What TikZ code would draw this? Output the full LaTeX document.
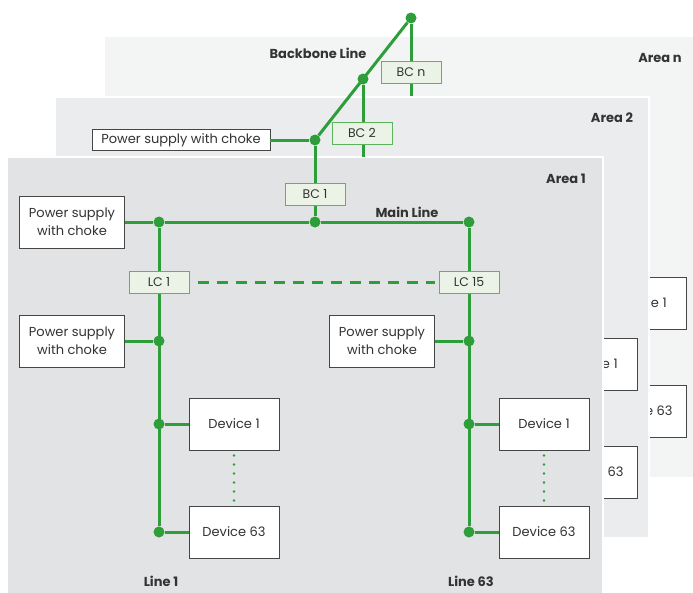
\documentclass[tikz,border=0pt]{standalone}
\usepackage{fontspec}
\setmainfont{Poppins}
\usepackage{tikz}
\usetikzlibrary{positioning}
\definecolor{busgreen}{RGB}{46,158,58}
\definecolor{cplfill}{RGB}{234,243,230}
\definecolor{cpledge}{RGB}{92,180,92}
\definecolor{txt}{RGB}{51,51,51}
\definecolor{boxedge}{RGB}{70,70,70}
\definecolor{AreaN}{RGB}{243,244,244}
\definecolor{AreaT}{RGB}{235,236,237}
\definecolor{AreaO}{RGB}{226,227,229}
\newcommand{\areapanel}[5]{
\filldraw[fill=#1, draw=white, line width=2pt] (#2,#3) rectangle (#4,#5);
}
\newcommand{\ghostdevices}[3]{
\node[devbox] (#1a) at (544+#2,424-#3) {Device 1};
\node[devbox] (#1b) at (544+#2,532-#3) {Device 63};
}
\tikzset{
  bus/.style={draw=busgreen, line width=3pt},
  junction/.style={circle, fill=busgreen, inner sep=0pt, minimum size=11pt},
  coupler/.style={draw=cpledge, fill=cplfill, line width=1pt, minimum width=60pt,
    minimum height=22pt, inner sep=0pt, text=txt, font=\fontsize{12.5}{14}\selectfont},
  psbox/.style={draw=boxedge, fill=white, line width=0.9pt, minimum width=105pt,
    minimum height=52pt, inner sep=0pt, align=center, text=txt,
    font=\fontsize{13}{18}\selectfont},
  devbox/.style={psbox, minimum width=90pt},
  tag/.style={text=txt, font=\fontsize{13}{14}\selectfont\bfseries},
}
\begin{document}
\begin{tikzpicture}[x=1pt,y=-1pt]
\useasboundingbox (0,0) rectangle (693,592);
% area n
\areapanel{AreaN}{104}{36}{700}{478}
\ghostdevices{dn}{97}{121}
\node[tag] (arean) at (660,58) {Area n};
% area 2
\areapanel{AreaT}{55}{97}{649}{538}
\ghostdevices{dt}{48}{60}
\node[tag] (areat) at (612,118) {Area 2};
% area 1
\areapanel{AreaO}{7}{157}{603}{600}
\node[tag] (areao) at (566,179) {Area 1};
\node[tag] (backbone) at (318,53) {Backbone Line};
\node[tag] (mainline) at (407,212) {Main Line};
\node[tag] (lineone) at (161,581) {Line 1};
\node[tag] (linesixtythree) at (471,581) {Line 63};

% backbone
\node[junction] (bbn) at (411,18) {};
\node[junction] (bbt) at (363,79) {};
\node[junction] (bbo) at (315,140) {};
\coordinate (endn) at (411,96);
\coordinate (endt) at (363,157);
\draw[bus] (bbn) -- (bbo);
\draw[bus] (bbn) -- (endn);
\draw[bus] (bbt) -- (endt);
\node[coupler] (bcn) at (411,72) {BC n};
\node[coupler] (bct) at (362,133) {BC 2};
\node[psbox, minimum width=178pt, minimum height=21pt] (pstop) at (181,140) {Power supply with choke};
\draw[bus] (pstop) -- (bbo);

% main line
\node[psbox] (psmain) at (72,222) {Power supply\\with choke};
\node[junction] (mleft) at (159,222) {};
\node[junction] (mmid) at (315,222) {};
\node[junction] (mright) at (469,222) {};
\draw[bus] (psmain) -- (mleft) -- (mmid) -- (mright);
\draw[bus] (bbo) -- (mmid);
\node[coupler] (bco) at (315,194) {BC 1};

% line 1
\node[psbox] (psleft) at (72,341) {Power supply\\with choke};
\node[devbox] (devla) at (234,424) {Device 1};
\node[devbox] (devlb) at (234,532) {Device 63};
\node[junction] (lps) at (159,341) {};
\node[junction] (lda) at (159,424) {};
\node[junction] (ldb) at (159,532) {};
\draw[bus] (mleft) -- (ldb);
\draw[bus] (psleft) -- (lps);
\draw[bus] (lda) -- (devla);
\draw[bus] (ldb) -- (devlb);
\node[coupler] (lcone) at (159,282) {LC 1};

% line 63
\node[psbox] (psright) at (382,341) {Power supply\\with choke};
\node[devbox] (devra) at (544,424) {Device 1};
\node[devbox] (devrb) at (544,532) {Device 63};
\node[junction] (rps) at (469,341) {};
\node[junction] (rda) at (469,424) {};
\node[junction] (rdb) at (469,532) {};
\draw[bus] (mright) -- (rdb);
\draw[bus] (psright) -- (rps);
\draw[bus] (rda) -- (devra);
\draw[bus] (rdb) -- (devrb);
\node[coupler] (lcft) at (469,282) {LC 15};

% couplers between lines, devices in between
\draw[busgreen, line width=3pt, dash pattern=on 11pt off 8pt] ([xshift=8pt]lcone.east) -- ([xshift=-4pt]lcft.west);
\foreach \d in {l,r}{
  \draw[busgreen, line width=2.6pt, line cap=round, dash pattern=on 0pt off 9pt]
    ([yshift=-5pt]dev\d a.south) -- ([yshift=5pt]dev\d b.north);
}
\end{tikzpicture}
\end{document}
